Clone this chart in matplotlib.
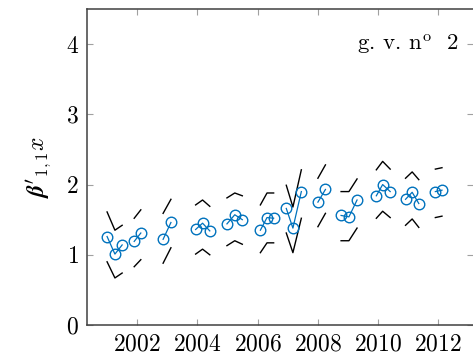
import matplotlib
matplotlib.use("Agg")
import matplotlib.pyplot as plt

plt.rcParams['font.family'] = 'serif'
plt.rcParams['font.serif'] = ['cmr10', 'DejaVu Serif']
plt.rcParams['mathtext.fontset'] = 'cm'
plt.rcParams['axes.formatter.use_mathtext'] = True

# valeurs
years = [2001.00, 2001.26, 2001.50,
         2001.90, 2002.12,
         2002.86, 2003.12,
         2003.94, 2004.17, 2004.41,
         2004.98, 2005.24, 2005.49,
         2006.09, 2006.31, 2006.53,
         2006.95, 2007.17, 2007.45,
         2008.00, 2008.25,
         2008.77, 2009.03, 2009.30,
         2009.94, 2010.15, 2010.40,
         2010.91, 2011.13, 2011.35,
         2011.90, 2012.12]
beta = [1.26, 1.01, 1.14,
        1.19, 1.31,
        1.22, 1.46,
        1.36, 1.45, 1.34,
        1.44, 1.57, 1.50,
        1.35, 1.53, 1.52,
        1.66, 1.38, 1.90,
        1.75, 1.93,
        1.56, 1.54, 1.78,
        1.84, 2.00, 1.90,
        1.79, 1.89, 1.73,
        1.90, 1.92]
upper = [1.61, 1.35, 1.42,
         1.52, 1.64,
         1.59, 1.79,
         1.71, 1.78, 1.69,
         1.81, 1.88, 1.84,
         1.71, 1.88, 1.88,
         1.99, 1.68, 2.21,
         2.09, 2.28,
         1.90, 1.90, 2.08,
         2.21, 2.33, 2.22,
         2.09, 2.18, 2.07,
         2.22, 2.24]
lower = [0.90, 0.67, 0.74,
         0.83, 0.93,
         0.88, 1.10,
         1.01, 1.08, 1.00,
         1.13, 1.20, 1.15,
         1.03, 1.17, 1.17,
         1.31, 1.03, 1.52,
         1.40, 1.59,
         1.20, 1.20, 1.38,
         1.52, 1.62, 1.53,
         1.42, 1.51, 1.39,
         1.53, 1.55]
group = [1, 1, 1, 2, 2, 3, 3, 4, 4, 4, 5, 5, 5, 6, 6, 6, 7, 7, 7,
         8, 8, 9, 9, 9, 10, 10, 10, 11, 11, 11, 12, 12]

xticks = [2002, 2004, 2006, 2008, 2010, 2012]
yticks = [0, 1, 2, 3, 4]

fig = plt.figure(figsize=(4.73, 3.58), dpi=100)
ax = fig.add_axes([87 / 473, 33 / 358, 386 / 473, 316 / 358])

bleu = '#0072bd'
for g in sorted(set(group)):
    idx = [i for i, k in enumerate(group) if k == g]
    xs = [years[i] for i in idx]
    ax.plot(xs, [upper[i] for i in idx], color='black', lw=1.0)
    ax.plot(xs, [lower[i] for i in idx], color='black', lw=1.0)
    ax.plot(xs, [beta[i] for i in idx], color=bleu, lw=0.9, marker='o',
            markersize=7.6, markerfacecolor='none', markeredgecolor=bleu,
            markeredgewidth=1.0)

ax.set_xlim(2000.333, 2013.15)
ax.set_ylim(0, 4.5)
ax.set_xticks(xticks)
ax.set_yticks(yticks)
ax.tick_params(direction='in', length=4, width=0.8, color='#a0a0a0',
               labelsize=17, top=True, right=True, pad=6)
for s in ['left', 'top', 'bottom']:
    ax.spines[s].set_color('#404040')
    ax.spines[s].set_linewidth(1.1)
ax.spines['right'].set_visible(False)

ax.set_ylabel(r"$\boldsymbol{\beta}'_{1,1}x$", fontsize=17, labelpad=8)
ax.text(0.965, 0.89, r'g. v. n$^{\mathrm{o}}$  2', transform=ax.transAxes,
        ha='right', va='center', fontsize=16.5)

plt.savefig('out.png', dpi=100)
